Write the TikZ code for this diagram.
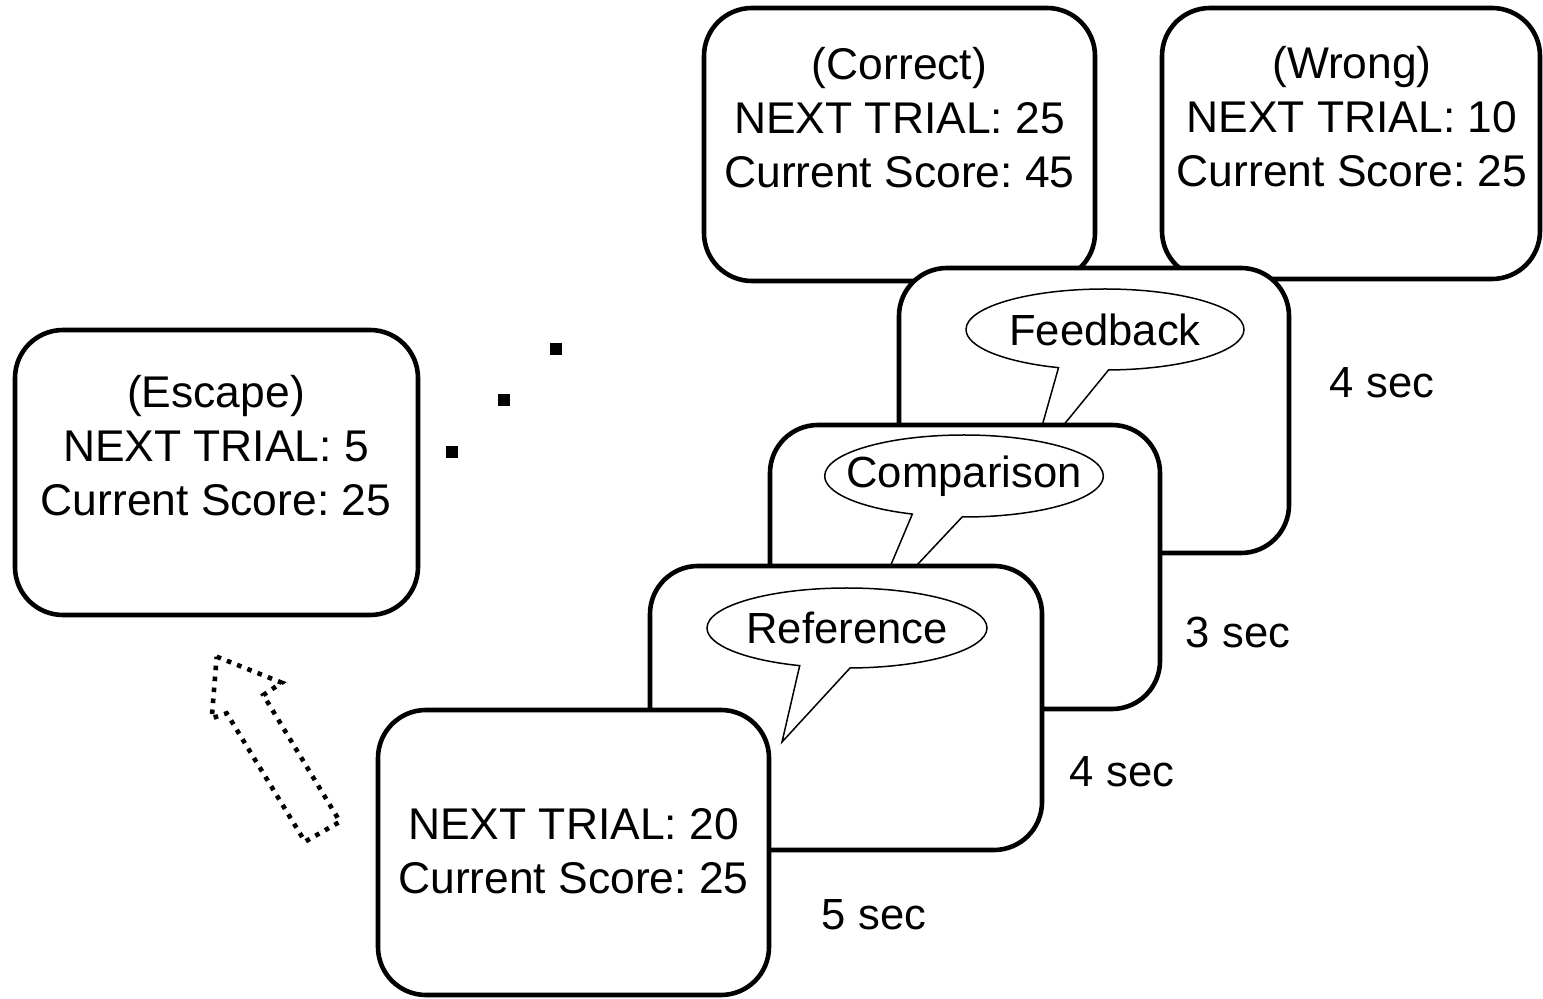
\documentclass[tikz,border=0pt]{standalone}
\usepackage{fontspec}
\setmainfont{Liberation Sans}
\frenchspacing
\usetikzlibrary{shapes.callouts}
\begin{document}
\begin{tikzpicture}[x=0.5pt,y=-0.5pt,
  card/.style={draw, fill=white, line width=2.3pt, rounded corners=24pt, inner sep=0pt},
  cardtext/.style={align=center, font=\fontsize{22.2}{27}\selectfont\frenchspacing, inner sep=0pt},
  bubble/.style={ellipse callout, draw, fill=white, line width=0.75pt, inner sep=0pt,
    callout pointer arc=21, font=\fontsize{21.8}{26}\selectfont},
  timelabel/.style={font=\fontsize{21.8}{26}\selectfont, inner sep=0pt},
  dotsq/.style={fill, inner sep=0pt, minimum size=6.3pt},
  escarrow/.style={line width=2.3pt, line cap=butt, dash pattern=on 2.3pt off 3.2pt}
]
\useasboundingbox (0,0) rectangle (1543,999);

% outcome screens
\node[card, minimum width=195.5pt, minimum height=136.5pt] (correct) at (899.5,144.5) {};
\node[cardtext] (correcttxt) at (899.5,118) {(Correct)\\NEXT TRIAL: 25\\Current Score: 45};
\node[card, minimum width=189pt, minimum height=135.5pt] (wrong) at (1351,143.5) {};
\node[cardtext] (wrongtxt) at (1352,117) {(Wrong)\\NEXT TRIAL: 10\\Current Score: 25};

% feedback screen
\node[card, minimum width=195pt, minimum height=142.5pt] (feedback) at (1094,410.5) {};
\node[bubble, minimum width=139pt, minimum height=40.5pt,
  callout absolute pointer={(1031,465)}] (fbbubble) at (1105,329.5) {\makebox[0pt]{Feedback}};

% comparison screen
\node[card, minimum width=195pt, minimum height=142pt] (comparison) at (965,567) {};
\node[bubble, minimum width=139.3pt, minimum height=41pt,
  callout absolute pointer={(869.5,615.6)}] (cmpbubble) at (964,476) {\makebox[0pt]{Comparison}};

% reference screen
\node[card, minimum width=196pt, minimum height=142pt] (reference) at (846,708) {};
\node[bubble, minimum width=140pt, minimum height=40pt,
  callout absolute pointer={(782,742)}] (refbubble) at (847,628) {\makebox[0pt]{Reference}};

% start screen
\node[card, minimum width=195.5pt, minimum height=142.5pt] (start) at (573.5,852.5) {};
\node[cardtext] (starttxt) at (573.5,851) {NEXT TRIAL: 20\\Current Score: 25};

% escape screen
\node[card, minimum width=201.5pt, minimum height=142.5pt] (escape) at (216.5,472.5) {};
\node[cardtext] (escapetxt) at (216,446) {(Escape)\\NEXT TRIAL: 5\\Current Score: 25};

% durations
\node[timelabel] (t1) at (1382,383) {4 sec};
\node[timelabel] (t2) at (1238,632) {3 sec};
\node[timelabel] (t3) at (1122,772) {4 sec};
\node[timelabel] (t4) at (874,915) {5 sec};

% ellipsis dots
\node[dotsq] (d1) at (556,349) {};
\node[dotsq] (d2) at (504,400) {};
\node[dotsq] (d3) at (452,452) {};

% dotted block arrow
\draw[escarrow] (216.7,656.7) -- (281.7,682.7) -- (263.3,695) -- (340,821.7)
  -- (305,841.7) -- (226.7,713.3) -- (211.7,718.3) -- cycle;
\end{tikzpicture}
\end{document}
